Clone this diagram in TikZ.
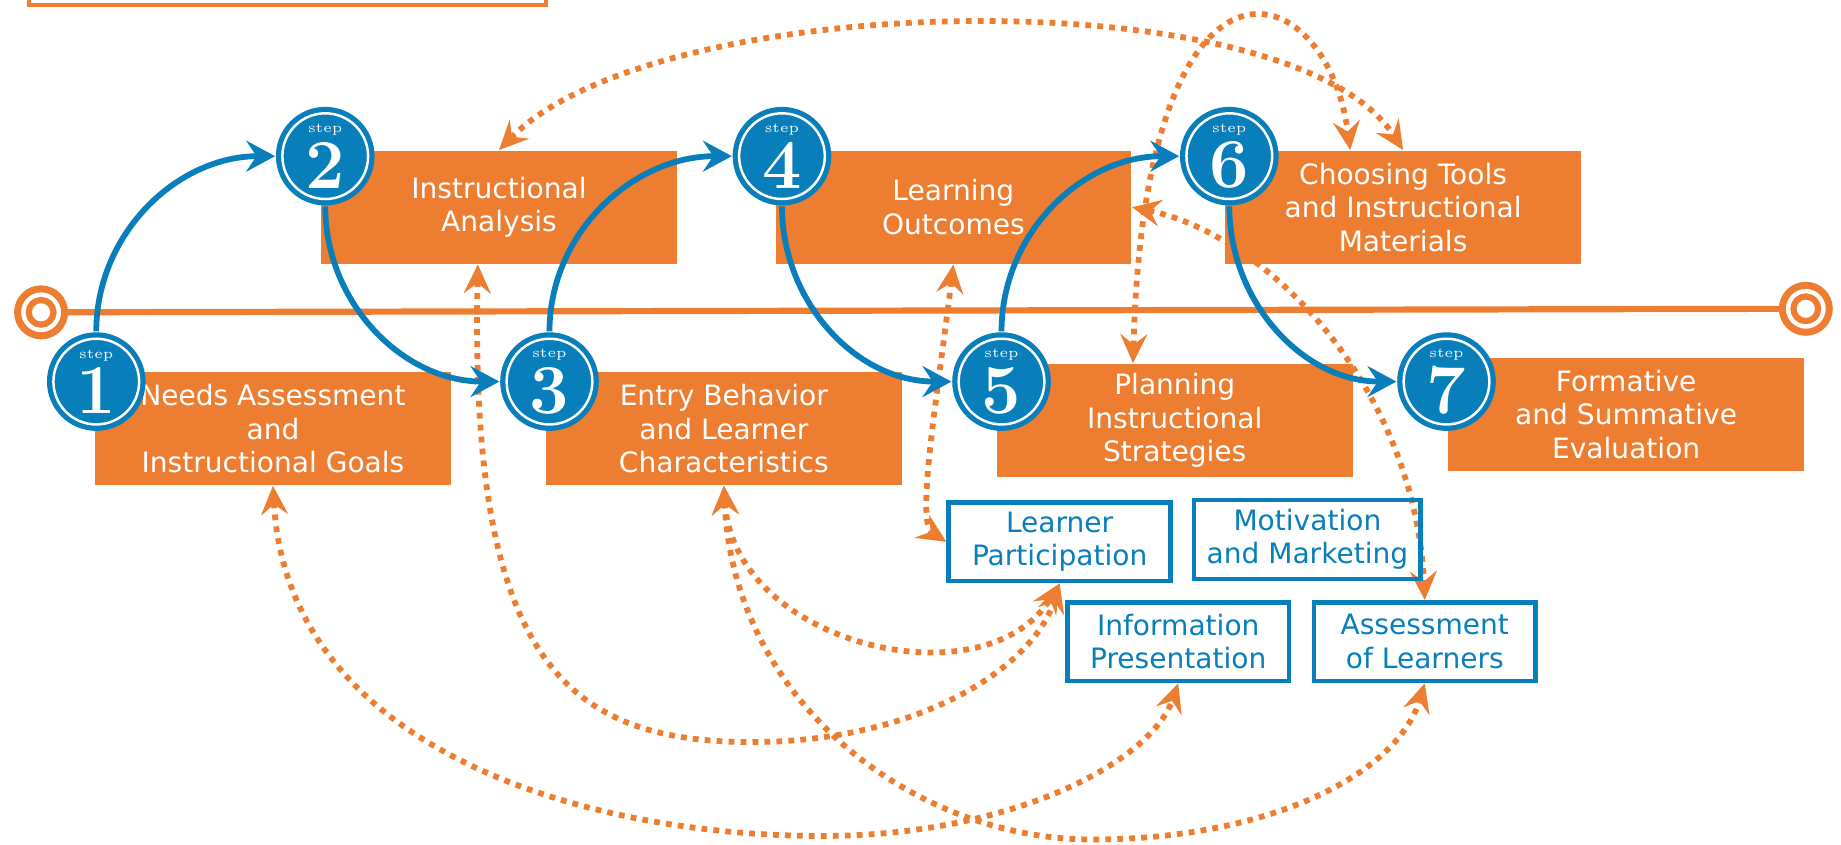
\documentclass[tikz,border=0pt]{standalone}
\usepackage{fontspec}
\setsansfont{DejaVu Sans}
\usetikzlibrary{arrows.meta}

\definecolor{stepblue}{RGB}{8,126,186}
\definecolor{steporange}{RGB}{237,125,49}

\pgfdeclarelayer{background}
\pgfsetlayers{background,main}

\tikzset{
    boxfont/.style={font=\sffamily\fontsize{6.8}{8.1}\selectfont},
    stepbox/.style={rectangle, fill=steporange, text=white, minimum width=3.03cm, minimum height=0.96cm, inner sep=0pt, align=center, boxfont},
    partbox/.style={rectangle, draw=stepblue, line width=1.1pt, text=stepblue, minimum width=1.89cm, minimum height=0.67cm, inner sep=0pt, align=center, boxfont},
    stepdisc/.style={circle, fill=stepblue, text=white, minimum size=0.84cm, inner sep=0pt, align=center,
        font=\rmfamily\fontsize{3.4}{4}\selectfont,
        path picture={\draw[white, line width=0.6pt] (path picture bounding box.center) circle (0.365cm);}},
    target/.style={circle, draw=steporange, line width=1.7pt, minimum size=0.4cm, inner sep=0pt,
        path picture={\draw[steporange, line width=1.5pt] (path picture bounding box.center) circle (0.105cm);}},
    timeline/.style={steporange, line width=1.5pt},
    flow/.style={stepblue, line width=1.4pt, -{Stealth[length=7pt, width=7.5pt, inset=2.5pt]}},
    link/.style={steporange, line width=1.4pt, dash pattern=on 1.4pt off 1.5pt,
        {Stealth[length=7pt, width=6.5pt, inset=2.5pt]}-{Stealth[length=7pt, width=6.5pt, inset=2.5pt]}}
}

\newcommand{\stepnum}[1]{step\\[0.6pt]{\fontsize{17}{14}\selectfont\bfseries #1}}

\begin{document}
\begin{tikzpicture}
    \useasboundingbox (0,0) rectangle (15.68,-7.19);

    % box at the top, cut by the frame
    \node[draw=steporange, line width=0.9pt, minimum width=4.4cm, minimum height=0.6cm] (title) at (2.45,0.26) {};

    % start and end of the line
    \node[target] (start) at (0.35,-2.66) {};
    \node[target] (finish) at (15.38,-2.63) {};

    % the seven steps
    \node[stepbox] (needs) at (2.325,-3.65) {Needs Assessment\\and\\Instructional Goals};
    \node[stepbox] (analysis) at (4.25,-1.765) {Instructional\\Analysis};
    \node[stepbox] (entry) at (6.165,-3.65) {Entry Behavior\\and Learner\\Characteristics};
    \node[stepbox] (outcomes) at (8.12,-1.765) {Learning\\Outcomes};
    \node[stepbox] (planning) at (10.005,-3.58) {Planning\\Instructional\\Strategies};
    \node[stepbox] (tools) at (11.95,-1.765) {Choosing Tools\\and Instructional\\Materials};
    \node[stepbox] (evaluation) at (13.85,-3.53) {Formative\\and Summative\\Evaluation};

    \node[partbox] (learner) at (9.025,-4.615) {Learner\\Participation};
    \node[partbox, minimum width=1.93cm] (marketing) at (11.135,-4.595) {Motivation\\and Marketing};
    \node[partbox] (info) at (10.035,-5.465) {Information\\Presentation};
    \node[partbox] (assess) at (12.135,-5.465) {Assessment\\of Learners};

    \node[stepdisc] (s1) at (0.82,-3.25) {\stepnum{1}};
    \node[stepdisc] (s2) at (2.77,-1.33) {\stepnum{2}};
    \node[stepdisc] (s3) at (4.68,-3.25) {\stepnum{3}};
    \node[stepdisc] (s4) at (6.66,-1.33) {\stepnum{4}};
    \node[stepdisc] (s5) at (8.53,-3.25) {\stepnum{5}};
    \node[stepdisc] (s6) at (10.47,-1.33) {\stepnum{6}};
    \node[stepdisc] (s7) at (12.32,-3.25) {\stepnum{7}};

    \path[flow] (s1) edge[out=90, in=180] (s2);
    \path[flow] (s2) edge[out=-90, in=180] (s3);
    \path[flow] (s3) edge[out=90, in=180] (s4);
    \path[flow] (s4) edge[out=-90, in=180] (s5);
    \path[flow] (s5) edge[out=90, in=180] (s6);
    \path[flow] (s6) edge[out=-90, in=180] (s7);

    \begin{pgfonlayer}{background}
        \draw[timeline] (start) -- (finish);

        \draw[link] (analysis.north) .. controls (5.6,0.1) and (11.0,0.2) .. (tools.north);
        \draw[link] ([xshift=-0.355cm]planning.north) .. controls (9.75,0.7) and (11.3,0.25) .. ([xshift=-0.45cm]tools.north);
        \draw[link] (outcomes.south) .. controls (7.98,-3.4) and (7.8,-4.45) .. (learner.west);
        \draw[link] (outcomes.east) .. controls (10.8,-2.0) and (12.05,-3.3) .. (assess.north);
        \draw[link] (entry.south) .. controls (6.25,-5.5) and (8.4,-6.0) .. (learner.south);
        \draw[link] ([xshift=-0.18cm]analysis.south) .. controls (4.0,-5.6) and (4.8,-6.32) .. (6.4,-6.32)
            .. controls (7.8,-6.32) and (8.8,-5.7) .. (learner.south);
        \draw[link] (needs.south) .. controls (2.45,-6.4) and (5.0,-7.12) .. (7.0,-7.12)
            .. controls (8.6,-7.12) and (9.8,-6.5) .. (info.south);
        \draw[link] (entry.south) .. controls (6.25,-6.0) and (7.8,-7.15) .. (9.3,-7.15)
            .. controls (10.8,-7.15) and (11.9,-6.6) .. (assess.south);
    \end{pgfonlayer}

\end{tikzpicture}
\end{document}
